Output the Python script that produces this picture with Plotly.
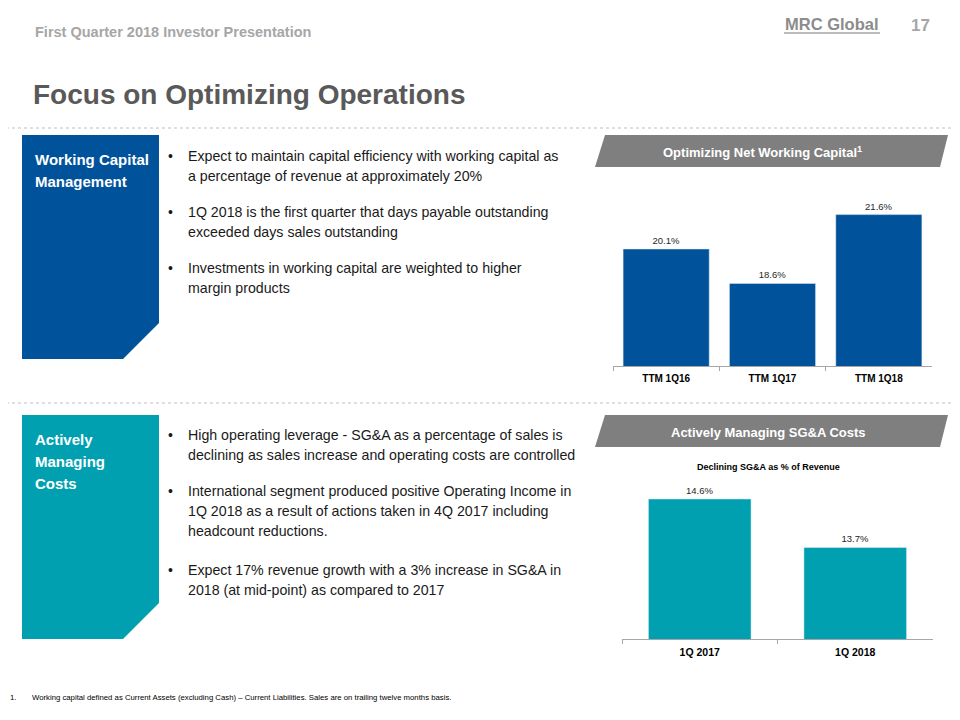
import plotly.graph_objects as go

# The page body has an 8px margin, so the figure is placed at (8, 8) on the page.
OFF = 8
FW, FH = 944, 704

# ---------------- data ----------------
nwc_categories = ["TTM 1Q16", "TTM 1Q17", "TTM 1Q18"]
nwc_values = [20.1, 18.6, 21.6]
sga_categories = ["1Q 2017", "1Q 2018"]
sga_values = [14.6, 13.7]

header_text = "First Quarter 2018 Investor Presentation"
page_number = "17"
logo_text = "MRC Global"
title_text = "Focus on Optimizing Operations"
box1_lines = ["Working Capital", "Management"]
box2_lines = ["Actively", "Managing", "Costs"]
bullets_top = [
    ["Expect to maintain capital efficiency with working capital as",
     "a percentage of revenue at approximately 20%"],
    ["1Q 2018 is the first quarter that days payable outstanding",
     "exceeded days sales outstanding"],
    ["Investments in working capital are weighted to higher",
     "margin products"],
]
bullets_bottom = [
    ["High operating leverage - SG&A as a percentage of sales is",
     "declining as sales increase and operating costs are controlled"],
    ["International segment produced positive Operating Income in",
     "1Q 2018 as a result of actions taken in 4Q 2017 including",
     "headcount reductions."],
    ["Expect 17% revenue growth with a 3% increase in SG&A in",
     "2018 (at mid-point) as compared to 2017"],
]
banner_top = "Optimizing Net Working Capital<sup>1</sup>"
banner_bottom = "Actively Managing SG&A Costs"
sga_subtitle = "Declining SG&A as % of Revenue"
footnote_num = "1."
footnote_text = ("Working capital defined as Current Assets (excluding Cash) \u2013 Current "
                 "Liabilities. Sales are on trailing twelve months basis.")

# ---------------- style ----------------
FONT = "Liberation Sans, Arial, sans-serif"
BLUE = "#00529B"
TEAL = "#00A0B0"
GREY_BANNER = "#7F7F7F"


def px(x):
    return (x - OFF) / FW


def py(y):
    return 1 - (y - OFF) / FH


def path(points):
    pts = [f"{px(x):.5f},{py(y):.5f}" for x, y in points]
    return "M " + " L ".join(pts) + " Z"


fig = go.Figure()

fig.add_trace(go.Bar(
    x=nwc_categories, y=nwc_values, marker_color=BLUE, width=0.81,
    text=[f"{v:.1f}%" for v in nwc_values], textposition="outside",
    textfont=dict(family=FONT, size=9.5, color="#262626"),
    cliponaxis=False, xaxis="x", yaxis="y", hoverinfo="skip",
))
fig.add_trace(go.Bar(
    x=sga_categories, y=sga_values, marker_color=TEAL, width=0.66,
    text=[f"{v:.1f}%" for v in sga_values], textposition="outside",
    textfont=dict(family=FONT, size=9.5, color="#262626"),
    cliponaxis=False, xaxis="x2", yaxis="y2", hoverinfo="skip",
))

axis_common = dict(showgrid=False, zeroline=False, showline=True,
                   linecolor="#A6A6A6", linewidth=1, ticks="outside",
                   tickson="boundaries", ticklen=4, tickcolor="#A6A6A6",
                   ticklabelstandoff=3)

fig.update_layout(
    width=FW, height=FH, margin=dict(l=0, r=0, t=0, b=0),
    paper_bgcolor="white", plot_bgcolor="white", showlegend=False,
    xaxis=dict(domain=[px(613), px(932)], anchor="y",
               tickfont=dict(family=FONT, size=10, color="#000000", weight="bold"),
               **axis_common),
    yaxis=dict(domain=[py(366), py(190)], range=[15, 15 + 176 / 22.94],
               visible=False, anchor="x"),
    xaxis2=dict(domain=[px(622), px(933)], anchor="y2",
                tickfont=dict(family=FONT, size=10.5, color="#000000", weight="bold"),
                **axis_common),
    yaxis2=dict(domain=[py(639), py(470)], range=[12, 12 + 169 / 53.85],
                visible=False, anchor="x2"),
)

shapes = []
# dotted separators
for yy in (128, 403):
    shapes.append(dict(type="line", xref="paper", yref="paper",
                       x0=px(0), x1=px(960), y0=py(yy), y1=py(yy),
                       line=dict(color="#BFBFBF", width=1, dash="dot")))
# left boxes
shapes.append(dict(type="path", xref="paper", yref="paper",
                   path=path([(22, 135), (159, 135), (159, 323), (123, 359), (22, 359)]),
                   fillcolor=BLUE, line=dict(width=0)))
shapes.append(dict(type="path", xref="paper", yref="paper",
                   path=path([(22, 415), (159, 415), (159, 603), (123, 639), (22, 639)]),
                   fillcolor=TEAL, line=dict(width=0)))
# banners
shapes.append(dict(type="path", xref="paper", yref="paper",
                   path=path([(595, 167), (605, 135), (948, 135), (940, 167)]),
                   fillcolor=GREY_BANNER, line=dict(width=0)))
shapes.append(dict(type="path", xref="paper", yref="paper",
                   path=path([(595, 447), (605, 415), (948, 415), (940, 447)]),
                   fillcolor=GREY_BANNER, line=dict(width=0)))
# logo underline
shapes.append(dict(type="line", xref="paper", yref="paper",
                   x0=px(784), x1=px(880), y0=py(33), y1=py(33),
                   line=dict(color="#A6A6A6", width=1.5)))
fig.update_layout(shapes=shapes)

ann = []


def text(x, y, s, size, color="#1A1A1A", bold=False, xanchor="left"):
    ann.append(dict(x=px(x), y=py(y), xref="paper", yref="paper",
                    text=f"<b>{s}</b>" if bold else s, showarrow=False,
                    xanchor=xanchor, yanchor="middle",
                    font=dict(family=FONT, size=size, color=color)))


text(33, 32, header_text, 14.5, color="#A6A6A6", bold=True)
text(832, 24, logo_text, 16.5, color="#8C8C8C", bold=True, xanchor="center")
text(920, 25, page_number, 17, color="#A6A6A6", bold=True, xanchor="center")
text(31, 95, title_text, 28, color="#595959", bold=True)

for i, s in enumerate(box1_lines):
    text(33, 159 + 22 * i, s, 15, color="white", bold=True)
for i, s in enumerate(box2_lines):
    text(33, 439 + 22 * i, s, 15, color="white", bold=True)

top_starts = [156, 212, 268]
for start, para in zip(top_starts, bullets_top):
    text(170, start, "\u2022", 14, xanchor="center")
    for j, s in enumerate(para):
        text(186, start + 20 * j, s, 14.2)
bot_starts = [435, 491, 570]
for start, para in zip(bot_starts, bullets_bottom):
    text(170, start, "\u2022", 14, xanchor="center")
    for j, s in enumerate(para):
        text(186, start + 20 * j, s, 14.2)

text(762, 152, banner_top, 13, color="white", bold=True, xanchor="center")
text(768, 432, banner_bottom, 13, color="white", bold=True, xanchor="center")
text(768, 467, sga_subtitle, 9, color="#000000", bold=True, xanchor="center")

text(8, 697, footnote_num, 7.75, color="#000000")
text(30, 697, footnote_text, 7.75, color="#000000")

fig.update_layout(annotations=ann)
fig.write_html("out.html")
